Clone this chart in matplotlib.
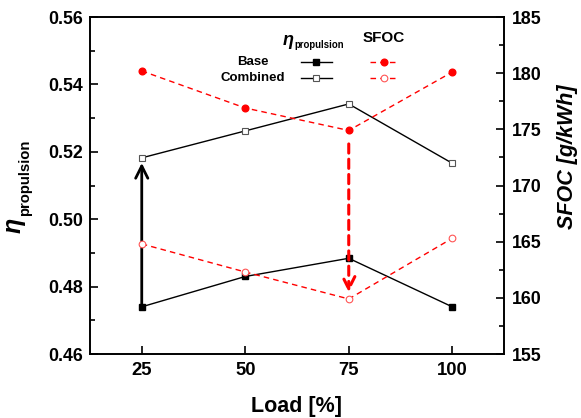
import matplotlib
matplotlib.use("Agg")
import matplotlib.pyplot as plt
from matplotlib.ticker import MultipleLocator, FormatStrFormatter

plt.rcParams['font.family'] = ['Liberation Sans', 'DejaVu Sans']
plt.rcParams['font.weight'] = 'bold'

load = [25, 50, 75, 100]
eta_base = [0.474, 0.483, 0.4884, 0.474]
eta_combined = [0.5182, 0.5262, 0.5342, 0.5166]
sfoc_base = [180.2, 176.9, 174.9, 180.1]
sfoc_combined = [164.8, 162.3, 159.9, 165.3]

W, H = 581, 418
fig = plt.figure(figsize=(W / 100, H / 100), dpi=100)
ax = fig.add_axes([90 / W, (H - 354) / H, 414 / W, 337 / H])
ax2 = ax.twinx()

DASH = (0, (4, 3))
ax.plot(load, eta_base, color='black', lw=1, marker='s', ms=4.8, mfc='black', mec='black', zorder=3)
ax.plot(load, eta_combined, color='black', lw=1, marker='s', ms=4.8, mfc='white', mec='#555555', mew=0.8, zorder=3)
ax2.plot(load, sfoc_base, color='red', lw=1, ls=DASH, marker='o', ms=4.8, mfc='red', mec='red')
ax2.plot(load, sfoc_combined, color='red', lw=1, ls=DASH, marker='o', ms=4.8, mfc='white', mec='#ff5555', mew=0.8)

ax.set_xlim(12.5, 112.5)
ax.set_ylim(0.46, 0.56)
ax2.set_ylim(155, 185)
ax.set_xticks(load)
ax.yaxis.set_major_locator(MultipleLocator(0.02))
ax.yaxis.set_minor_locator(MultipleLocator(0.01))
ax2.yaxis.set_major_locator(MultipleLocator(5))
ax2.yaxis.set_minor_locator(MultipleLocator(2.5))
ax.yaxis.set_major_formatter(FormatStrFormatter('%.2f'))

for a in (ax, ax2):
    for s in a.spines.values():
        s.set_linewidth(1.2)
ax.tick_params(axis='x', which='major', direction='in', length=6, width=1.2, labelsize=13.3, pad=5.5)
ax.tick_params(axis='y', which='major', direction='in', length=6, width=1.2, labelsize=12.8, pad=5)
ax.tick_params(axis='y', which='minor', direction='in', length=3.5, width=1.2)
ax2.tick_params(axis='y', which='major', direction='in', length=6, width=1.2, labelsize=12.8, pad=5.5)
ax2.tick_params(axis='y', which='minor', direction='in', length=3.5, width=1.2)

def F(x, y):
    return x / W, (H - y) / H

# axis labels (placed in pixel positions)
fig.text(*F(296.5, 412), 'Load [%]', ha='center', va='baseline', fontsize=15.5, fontweight='bold')
fig.text(*F(568, 156.5), 'SFOC [g/kWh]', ha='center', va='center', rotation=90,
         fontsize=15.5, fontweight='bold', style='italic')
fig.text(*F(13.5, 233), '\u03b7', ha='center', va='bottom', rotation=90,
         fontsize=18, fontweight='bold', style='italic')
fig.text(*F(25, 216), 'propulsion', ha='center', va='bottom', rotation=90,
         fontsize=10.7, fontweight='bold')

# arrows
ax.annotate('', xy=(load[0], eta_combined[0] - 0.0015), xytext=(load[0], eta_base[0]),
            arrowprops=dict(arrowstyle='->', color='black', lw=2, mutation_scale=22, shrinkA=0, shrinkB=0))
ax2.annotate('', xy=(load[2], sfoc_combined[2] + 0.6), xytext=(load[2], sfoc_base[2] - 1.2),
             arrowprops=dict(arrowstyle='->', color='red', lw=2.2, ls=(0, (3, 2)), mutation_scale=22,
                             shrinkA=0, shrinkB=0))

# custom legend (headers, row labels and sample lines)
fig.text(*F(283, 45), '\u03b7', ha='left', va='baseline', fontsize=13, fontweight='bold', style='italic')
fig.text(*F(294.5, 48.5), 'propulsion', ha='left', va='baseline', fontsize=6.9, fontweight='bold')
fig.text(*F(384, 42), 'SFOC', ha='center', va='baseline', fontsize=11, fontweight='bold')
fig.text(*F(253, 65), 'Base', ha='center', va='baseline', fontsize=9.5, fontweight='bold')
fig.text(*F(253, 81), 'Combined', ha='center', va='baseline', fontsize=9.5, fontweight='bold')

tr = ax.transAxes
def fx(px):
    return (px - 90) / 414.0
def fy(py):
    return (354 - py) / 337.0

ax.plot([fx(301), fx(332)], [fy(61.5), fy(61.5)], transform=tr, color='black', lw=1, clip_on=False)
ax.plot([fx(316)], [fy(61.5)], transform=tr, marker='s', ms=4.8, color='black', clip_on=False)
ax.plot([fx(301), fx(332)], [fy(78), fy(78)], transform=tr, color='black', lw=1, clip_on=False)
ax.plot([fx(316)], [fy(78)], transform=tr, marker='s', ms=4.8, mfc='white', mec='#555555', mew=0.8, clip_on=False)
ax.plot([fx(370), fx(398)], [fy(61.5), fy(61.5)], transform=tr, color='red', lw=1, ls=DASH, clip_on=False)
ax.plot([fx(384)], [fy(61.5)], transform=tr, marker='o', ms=4.8, color='red', clip_on=False)
ax.plot([fx(370), fx(398)], [fy(78), fy(78)], transform=tr, color='red', lw=1, ls=DASH, clip_on=False)
ax.plot([fx(384)], [fy(78)], transform=tr, marker='o', ms=4.8, mfc='white', mec='#ff5555', mew=0.8, clip_on=False)

fig.savefig('out.png', dpi=100)
